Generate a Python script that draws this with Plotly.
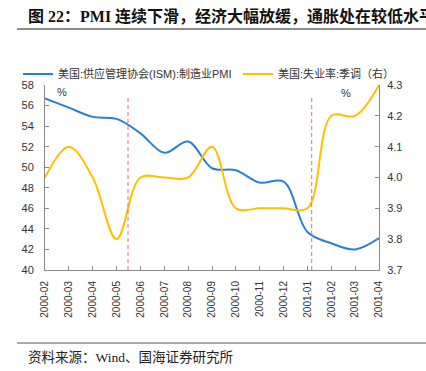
import plotly.graph_objects as go

months = ["2000-02", "2000-03", "2000-04", "2000-05", "2000-06", "2000-07", "2000-08",
          "2000-09", "2000-10", "2000-11", "2000-12", "2001-01", "2001-02", "2001-03", "2001-04"]
pmi = [56.7, 55.8, 54.9, 54.7, 53.3, 51.4, 52.5, 49.9, 49.7, 48.5, 48.6, 43.7, 42.6, 42.0, 43.1]
unemp = [4.0, 4.1, 4.0, 3.8, 4.0, 4.0, 4.0, 4.1, 3.9, 3.9, 3.9, 3.9, 4.2, 4.2, 4.3]
event_x = [3.48, 11.18]

name_pmi = "美国:供应管理协会(ISM):制造业PMI"
name_unemp = "美国:失业率:季调（右）"

BLUE = "#2680D9"
YELLOW = "#FFC000"
AX = "#888888"
TXT = "#333333"
CJK = "Noto Sans CJK SC"
LAT = "Liberation Sans, Arial, " + CJK

W, H = 426, 371
L, R, T, B = 45, 47, 85, 101
pw, ph = W - L - R, H - T - B

def px(x):
    return (x - L) / pw

def py(y):
    return (H - B - y) / ph

fig = go.Figure()
fig.add_trace(go.Scatter(x=months, y=pmi, name=name_pmi, mode="lines",
                         line=dict(color=BLUE, width=2, shape="spline", smoothing=1),
                         yaxis="y", legend="legend"))
fig.add_trace(go.Scatter(x=months, y=unemp, name=name_unemp, mode="lines",
                         line=dict(color=YELLOW, width=2, shape="spline", smoothing=1),
                         yaxis="y2", legend="legend2"))

shapes = []
for ex in event_x:
    shapes.append(dict(type="line", xref="x", yref="paper", x0=ex, x1=ex, y0=0, y1=py(95),
                       line=dict(color="#E07070", width=1, dash="4px,3px")))
shapes.append(dict(type="line", xref="paper", yref="paper", x0=px(17), x1=px(430),
                   y0=py(29), y1=py(29), line=dict(color="#8c8c8c", width=2)))
shapes.append(dict(type="line", xref="paper", yref="paper", x0=px(17), x1=px(430),
                   y0=py(343), y1=py(343), line=dict(color="#8c8c8c", width=1.5)))

annotations = [
    dict(text="<b>图 22：PMI 连续下滑，经济大幅放缓，通胀处在较低水平</b>", xref="paper", yref="paper",
         x=px(26), y=py(16), xanchor="left", yanchor="middle", showarrow=False,
         font=dict(family="Liberation Serif, " + CJK, size=16, color="#111111")),
    dict(text="资料来源：Wind、国海证券研究所", xref="paper", yref="paper",
         x=px(26), y=py(357), xanchor="left", yanchor="middle", showarrow=False,
         font=dict(family="Liberation Serif, " + CJK, size=13.5, color="#222222")),
    dict(text="%", xref="paper", yref="paper", x=px(55), y=py(92), xanchor="left",
         yanchor="middle", showarrow=False, font=dict(family=LAT, size=11, color=TXT)),
    dict(text="%", xref="paper", yref="paper", x=px(339), y=py(93), xanchor="left",
         yanchor="middle", showarrow=False, font=dict(family=LAT, size=11, color=TXT)),
]

leg_common = dict(orientation="h", yanchor="middle", xanchor="left",
                  font=dict(family=LAT, size=11, color=TXT), bgcolor="rgba(0,0,0,0)",
                  borderwidth=0, itemwidth=30)

fig.update_layout(
    width=W, height=H,
    margin=dict(l=L, r=R, t=T, b=B, pad=0, autoexpand=False),
    paper_bgcolor="white", plot_bgcolor="white",
    showlegend=True,
    legend=dict(x=px(18), y=py(74), **leg_common),
    legend2=dict(x=px(238), y=py(74), **leg_common),
    xaxis=dict(type="category", range=[0, len(months) - 1], showgrid=False, zeroline=False,
               showline=True, linecolor=AX, linewidth=1, ticks="inside", ticklen=4,
               tickcolor=AX, tickangle=-90, tickfont=dict(family=LAT, size=10, color=TXT),
               ticklabelstandoff=6),
    yaxis=dict(range=[40, 58], dtick=2, showgrid=False, zeroline=False, showline=True,
               linecolor=AX, linewidth=1, ticks="inside", ticklen=4, tickcolor=AX,
               tickfont=dict(family=LAT, size=11, color=TXT), ticklabelstandoff=8),
    yaxis2=dict(range=[3.7, 4.3], dtick=0.1, tickformat=".1f", overlaying="y", side="right",
                showgrid=False, zeroline=False, showline=True, linecolor=AX, linewidth=1,
                ticks="inside", ticklen=4, tickcolor=AX,
                tickfont=dict(family=LAT, size=11, color=TXT), ticklabelstandoff=5),
    shapes=shapes,
    annotations=annotations,
)

fig.write_html("out.html", config={"displayModeBar": False},
               post_script="document.body.style.margin='0';document.body.style.overflow='hidden';")
